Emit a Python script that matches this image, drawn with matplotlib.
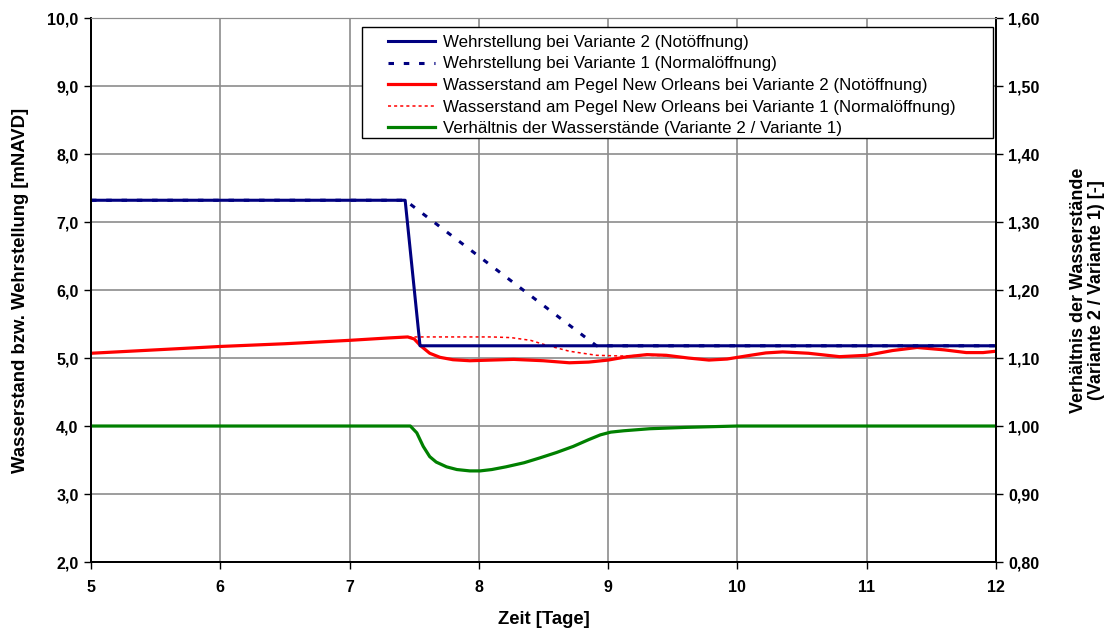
import matplotlib
matplotlib.use("Agg")
import matplotlib.pyplot as plt
from matplotlib.patches import Rectangle
from matplotlib.ticker import FuncFormatter, MultipleLocator

plt.rcParams['font.family'] = ['Liberation Sans', 'DejaVu Sans']

# Wehrstellung (gate position) [mNAVD]
t_wehr_v2 = [5.0, 7.43, 7.545, 12.0]
wehr_v2 = [7.32, 7.32, 5.18, 5.18]
t_wehr_v1 = [5.0, 7.43, 8.91, 12.0]
wehr_v1 = [7.32, 7.32, 5.18, 5.18]

# Wasserstand am Pegel New Orleans [mNAVD]
t_ws_v2 = [5.0, 5.5, 6.0, 6.5, 7.0, 7.3, 7.45, 7.5, 7.55, 7.62, 7.7, 7.8, 7.93,
           8.1, 8.27, 8.5, 8.7, 8.85, 9.0, 9.15, 9.3, 9.45, 9.62, 9.78, 9.92, 10.1,
           10.22, 10.35, 10.55, 10.79, 11.0, 11.2, 11.39, 11.6, 11.77, 11.9, 12.0]
ws_v2 = [5.07, 5.12, 5.17, 5.21, 5.26, 5.295, 5.31, 5.28, 5.18, 5.07, 5.01, 4.975, 4.96,
         4.97, 4.98, 4.96, 4.93, 4.94, 4.97, 5.02, 5.05, 5.04, 5.0, 4.97, 4.985, 5.04,
         5.075, 5.09, 5.07, 5.02, 5.04, 5.11, 5.155, 5.12, 5.08, 5.08, 5.10]
t_ws_v1 = [5.0, 5.5, 6.0, 6.5, 7.0, 7.3, 7.45, 7.8, 8.1, 8.25, 8.4, 8.52, 8.7, 8.91,
           9.1, 9.3, 9.45, 9.62, 9.78, 9.92, 10.1, 10.22, 10.35, 10.55, 10.79, 11.0,
           11.2, 11.39, 11.6, 11.77, 11.9, 12.0]
ws_v1 = [5.07, 5.12, 5.17, 5.21, 5.26, 5.295, 5.31, 5.31, 5.31, 5.30, 5.26, 5.19, 5.10, 5.04,
         5.03, 5.04, 5.035, 5.0, 4.97, 4.985, 5.04, 5.075, 5.09, 5.07, 5.02, 5.04,
         5.11, 5.155, 5.12, 5.08, 5.08, 5.10]

# Verhältnis der Wasserstände (Variante 2 / Variante 1) [-]
t_ratio = [5.0, 7.47, 7.52, 7.57, 7.62, 7.67, 7.75, 7.83, 7.93, 8.01, 8.1, 8.21,
           8.35, 8.47, 8.6, 8.73, 8.85, 8.94, 9.02, 9.12, 9.32, 9.6, 10.0, 12.0]
ratio = [1.0, 1.0, 0.99, 0.97, 0.955, 0.947, 0.940, 0.936, 0.934, 0.934, 0.936, 0.940,
         0.946, 0.953, 0.961, 0.970, 0.980, 0.987, 0.991, 0.993, 0.996, 0.998, 1.0, 1.0]

labels = ["Wehrstellung bei Variante 2 (Notöffnung)",
          "Wehrstellung bei Variante 1 (Normalöffnung)",
          "Wasserstand am Pegel New Orleans bei Variante 2 (Notöffnung)",
          "Wasserstand am Pegel New Orleans bei Variante 1 (Normalöffnung)",
          "Verhältnis der Wasserstände (Variante 2 / Variante 1)"]

navy = "#000080"
red = "#ff0000"
green = "#008000"

fig = plt.figure(figsize=(11.07, 6.30), dpi=100)
ax = fig.add_axes([0.0822, 0.1079, 0.8175, 0.8635])
ax2 = ax.twinx()

h_ws1, = ax.plot(t_ws_v1, ws_v1, color=red, lw=1.1, linestyle=(0, (2, 2)))
h_ws2, = ax.plot(t_ws_v2, ws_v2, color=red, lw=2.3)
h_w2, = ax.plot(t_wehr_v2, wehr_v2, color=navy, lw=2.2)
h_w1, = ax.plot(t_wehr_v1, wehr_v1, color=navy, lw=2.2, linestyle=(0, (1.8, 3.2)))
h_r, = ax2.plot(t_ratio, ratio, color=green, lw=2.3)

ax.set_xlim(5, 12)
ax.set_ylim(2.0, 10.0)
ax2.set_ylim(0.80, 1.60)
ax.xaxis.set_major_locator(MultipleLocator(1))
ax.yaxis.set_major_locator(MultipleLocator(1))
ax2.yaxis.set_major_locator(MultipleLocator(0.1))

ax.yaxis.set_major_formatter(FuncFormatter(lambda v, p: f"{v:.1f}".replace(".", ",")))
ax2.yaxis.set_major_formatter(FuncFormatter(lambda v, p: f"{v:.2f}".replace(".", ",")))
ax.xaxis.set_major_formatter(FuncFormatter(lambda v, p: f"{v:.0f}"))

ax.grid(True, color="#8c8c8c", lw=1.2)
ax.set_axisbelow(True)

for a in (ax, ax2):
    a.tick_params(direction="out", length=5, width=1, colors="black",
                  labelsize=11.5)
    for lab in a.get_xticklabels() + a.get_yticklabels():
        lab.set_fontweight("bold")
    a.spines["top"].set_color("#8c8c8c")
    for s in ("left", "right", "bottom"):
        a.spines[s].set_linewidth(1.3)
ax.tick_params(axis="x", pad=8)
ax.tick_params(axis="y", pad=4)
ax2.tick_params(axis="y", pad=4)

ax.set_xlabel("Zeit [Tage]", fontsize=13.3, fontweight="bold", labelpad=11.5)
ax.set_ylabel("Wasserstand bzw. Wehrstellung [mNAVD]", fontsize=13.3,
              fontweight="bold", labelpad=13)
ax2.set_ylabel("Verhältnis der Wasserstände\n(Variante 2 / Variante 1) [-]",
               fontsize=13, fontweight="bold", labelpad=22, linespacing=1.05)

# legend box with white background, legend entries placed inside it
box = Rectangle((0.2994, 0.7794), 0.9967 - 0.2994, 0.9835 - 0.7794,
                transform=ax2.transAxes, facecolor="white", edgecolor="black",
                lw=1.0, zorder=4.5, clip_on=False)
ax2.add_patch(box)
leg = ax2.legend([h_w2, h_w1, h_ws2, h_ws1, h_r], labels,
                 loc="upper left", bbox_to_anchor=(0.328, 0.969),
                 fontsize=12.2, frameon=False, handlelength=2.8,
                 handletextpad=0.45, borderpad=0.0, labelspacing=0.39,
                 borderaxespad=0.0)
leg.set_zorder(5)

fig.savefig("out.png", dpi=100)
